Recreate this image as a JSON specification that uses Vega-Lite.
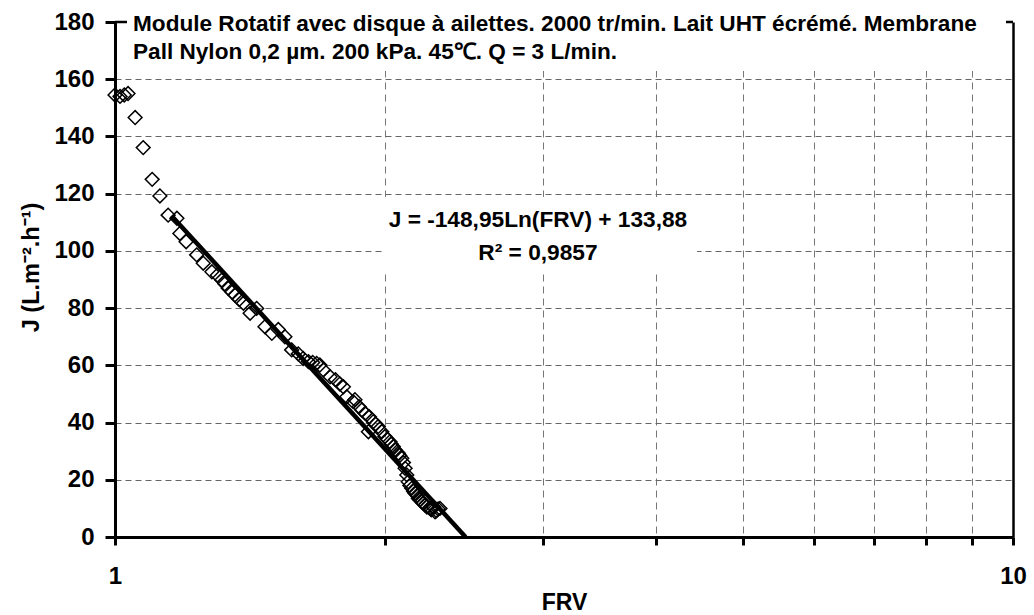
{
  "$schema": "https://vega.github.io/schema/vega-lite/v6.json",
  "autosize": {"type": "none"},
  "padding": {"left": 115, "top": 22, "right": 21, "bottom": 78},
  "width": 898,
  "height": 515,
  "background": "white",
  "config": {
    "view": {"stroke": null},
    "font": "Liberation Sans"
  },
  "layer": [
    {
      "data": {"values": [{}]},
      "mark": {"type": "rect", "fill": "white", "stroke": null},
      "encoding": {
        "x": {"datum": 1.0312, "type": "quantitative", "scale": {"type": "log", "domain": [1, 10], "nice": false},
          "axis": {
            "values": [1, 2, 3, 4, 5, 6, 7, 8, 9, 10],
            "labelExpr": "datum.value == 1 ? '1' : (datum.value == 10 ? '10' : '')",
            "labelFont": "Liberation Sans", "labelFontSize": 24, "labelFontWeight": "bold", "labelColor": "black",
            "labelPadding": 19, "labelFlush": false, "labelOverlap": false,
            "domainColor": "black", "domainWidth": 3,
            "tickColor": "black", "tickWidth": 3, "tickSize": 8,
            "grid": true, "gridWidth": {"condition": {"test": "datum.value == 10", "value": 2.5}, "value": 1},
            "gridColor": {"condition": {"test": "datum.value == 10", "value": "black"}, "value": "#777777"},
            "gridDash": {"condition": {"test": "datum.value == 10", "value": []}, "value": [7, 5]},
            "gridOpacity": {"condition": {"test": "datum.value == 1", "value": 0}, "value": 1},
            "title": "FRV", "titleFont": "Liberation Sans", "titleFontSize": 23, "titleFontWeight": "bold", "titleColor": "black", "titlePadding": 3
          }},
        "x2": {"datum": 9.822},
        "y": {"datum": 162.9, "type": "quantitative", "scale": {"domain": [0, 180], "nice": false},
          "axis": {
            "values": [0, 20, 40, 60, 80, 100, 120, 140, 160, 180],
            "labelFont": "Liberation Sans", "labelFontSize": 24, "labelFontWeight": "bold", "labelColor": "black",
            "labelPadding": 11,
            "domainColor": "black", "domainWidth": 3,
            "tickColor": "black", "tickWidth": 3, "tickSize": 10,
            "grid": true, "gridColor": "#666666", "gridDash": [6, 4], "gridWidth": 1,
            "gridOpacity": {"condition": {"test": "datum.value == 0 || datum.value == 180", "value": 0}, "value": 1},
            "title": "J (L.m⁻².h⁻¹)", "titleFont": "Liberation Sans", "titleFontSize": 23.5, "titleFontWeight": "bold", "titleColor": "black",
            "titleAngle": -90, "titleAlign": "center", "titleBaseline": "alphabetic", "titleX": -77, "titleY": 245
          }},
        "y2": {"datum": 182}
      }
    },
    {
      "data": {"values": [{}]},
      "mark": {"type": "rect", "fill": "white", "stroke": null},
      "encoding": {
        "x": {"datum": 1.9881, "type": "quantitative"},
        "x2": {"datum": 4.448},
        "y": {"datum": 93.3, "type": "quantitative"},
        "y2": {"datum": 118.8}
      }
    },
    {
      "data": {"values": [{}]},
      "mark": {"type": "rule", "color": "black", "strokeWidth": 2.5},
      "encoding": {
        "x": {"datum": 1, "type": "quantitative"},
        "x2": {"datum": 1.0312},
        "y": {"datum": 180, "type": "quantitative"}
      }
    },
    {
      "data": {"values": [{}]},
      "mark": {"type": "rule", "color": "black", "strokeWidth": 2.5},
      "encoding": {
        "x": {"datum": 9.822, "type": "quantitative"},
        "x2": {"datum": 10},
        "y": {"datum": 180, "type": "quantitative"}
      }
    },
    {
      "data": {"values": [
        {"FRV": 1.000, "J": 154.5}, {"FRV": 1.013, "J": 154.0}, {"FRV": 1.024, "J": 154.5}, {"FRV": 1.034, "J": 155.0},
        {"FRV": 1.053, "J": 146.6}, {"FRV": 1.075, "J": 136.1}, {"FRV": 1.100, "J": 125.0}, {"FRV": 1.122, "J": 119.2},
        {"FRV": 1.146, "J": 112.5}, {"FRV": 1.172, "J": 111.4}, {"FRV": 1.181, "J": 106.1}, {"FRV": 1.200, "J": 103.2},
        {"FRV": 1.233, "J": 98.6}, {"FRV": 1.254, "J": 95.7}, {"FRV": 1.282, "J": 92.7}, {"FRV": 1.300, "J": 91.5},
        {"FRV": 1.315, "J": 89.8}, {"FRV": 1.325, "J": 88.5}, {"FRV": 1.337, "J": 86.9}, {"FRV": 1.350, "J": 85.6},
        {"FRV": 1.360, "J": 84.6}, {"FRV": 1.375, "J": 83.0}, {"FRV": 1.390, "J": 81.7}, {"FRV": 1.414, "J": 78.2},
        {"FRV": 1.438, "J": 79.9}, {"FRV": 1.469, "J": 73.5}, {"FRV": 1.495, "J": 71.2}, {"FRV": 1.520, "J": 72.5},
        {"FRV": 1.546, "J": 70.0}, {"FRV": 1.573, "J": 65.4}, {"FRV": 1.600, "J": 64.0}, {"FRV": 1.620, "J": 62.4},
        {"FRV": 1.642, "J": 61.3}, {"FRV": 1.660, "J": 61.0}, {"FRV": 1.677, "J": 60.7}, {"FRV": 1.691, "J": 60.1},
        {"FRV": 1.706, "J": 58.4}, {"FRV": 1.736, "J": 56.0}, {"FRV": 1.760, "J": 55.0}, {"FRV": 1.780, "J": 53.5},
        {"FRV": 1.796, "J": 52.5}, {"FRV": 1.812, "J": 49.0}, {"FRV": 1.842, "J": 47.3}, {"FRV": 1.850, "J": 48.0},
        {"FRV": 1.870, "J": 45.5}, {"FRV": 1.883, "J": 44.4}, {"FRV": 1.899, "J": 43.2}, {"FRV": 1.915, "J": 36.8},
        {"FRV": 1.920, "J": 42.0}, {"FRV": 1.939, "J": 40.3}, {"FRV": 1.950, "J": 39.5}, {"FRV": 1.964, "J": 38.6},
        {"FRV": 1.982, "J": 36.8}, {"FRV": 1.998, "J": 35.1}, {"FRV": 2.010, "J": 34.2}, {"FRV": 2.024, "J": 33.3},
        {"FRV": 2.030, "J": 32.5}, {"FRV": 2.041, "J": 31.6}, {"FRV": 2.050, "J": 30.5}, {"FRV": 2.068, "J": 29.3},
        {"FRV": 2.075, "J": 28.5}, {"FRV": 2.086, "J": 27.5}, {"FRV": 2.095, "J": 26.0}, {"FRV": 2.104, "J": 24.0},
        {"FRV": 2.113, "J": 21.7}, {"FRV": 2.121, "J": 19.3}, {"FRV": 2.130, "J": 18.0}, {"FRV": 2.140, "J": 17.0},
        {"FRV": 2.150, "J": 16.0}, {"FRV": 2.158, "J": 15.3}, {"FRV": 2.170, "J": 14.5}, {"FRV": 2.177, "J": 13.5},
        {"FRV": 2.185, "J": 13.0}, {"FRV": 2.196, "J": 12.3}, {"FRV": 2.205, "J": 11.8}, {"FRV": 2.214, "J": 11.2},
        {"FRV": 2.225, "J": 10.5}, {"FRV": 2.243, "J": 10.0}, {"FRV": 2.250, "J": 9.5}, {"FRV": 2.262, "J": 10.6},
        {"FRV": 2.272, "J": 8.8}, {"FRV": 2.280, "J": 9.2}, {"FRV": 2.290, "J": 9.8}, {"FRV": 2.301, "J": 10.0}
      ]},
      "mark": {"type": "point", "shape": "diamond", "filled": false, "stroke": "black", "strokeWidth": 1.5, "size": 190, "opacity": 1},
      "encoding": {
        "x": {"field": "FRV", "type": "quantitative"},
        "y": {"field": "J", "type": "quantitative"}
      }
    },
    {
      "data": {"values": [{"FRV": 1.156, "J": 112.3}, {"FRV": 2.457, "J": 0}]},
      "mark": {"type": "line", "color": "black", "strokeWidth": 4.5, "clip": true},
      "encoding": {
        "x": {"field": "FRV", "type": "quantitative"},
        "y": {"field": "J", "type": "quantitative"}
      }
    },
    {
      "data": {"values": [{}]},
      "mark": {"type": "text", "align": "center", "baseline": "middle", "font": "Liberation Sans", "fontSize": 22.7, "fontWeight": "bold", "color": "black", "lineHeight": 33},
      "encoding": {
        "x": {"datum": 2.958, "type": "quantitative"},
        "y": {"datum": 110.8, "type": "quantitative"},
        "text": {"value": ["J = -148,95Ln(FRV) + 133,88", "R² = 0,9857"]}
      }
    },
    {
      "data": {"values": [{}]},
      "mark": {"type": "text", "align": "left", "baseline": "middle", "font": "Liberation Sans", "fontSize": 22.6, "fontWeight": "bold", "color": "black", "lineHeight": 27.5},
      "encoding": {
        "x": {"datum": 1.0473, "type": "quantitative"},
        "y": {"datum": 179.2, "type": "quantitative"},
        "text": {"value": ["Module Rotatif avec disque à ailettes. 2000 tr/min. Lait UHT écrémé. Membrane", "Pall Nylon 0,2 µm. 200 kPa. 45℃. Q = 3 L/min."]}
      }
    }
  ]
}
